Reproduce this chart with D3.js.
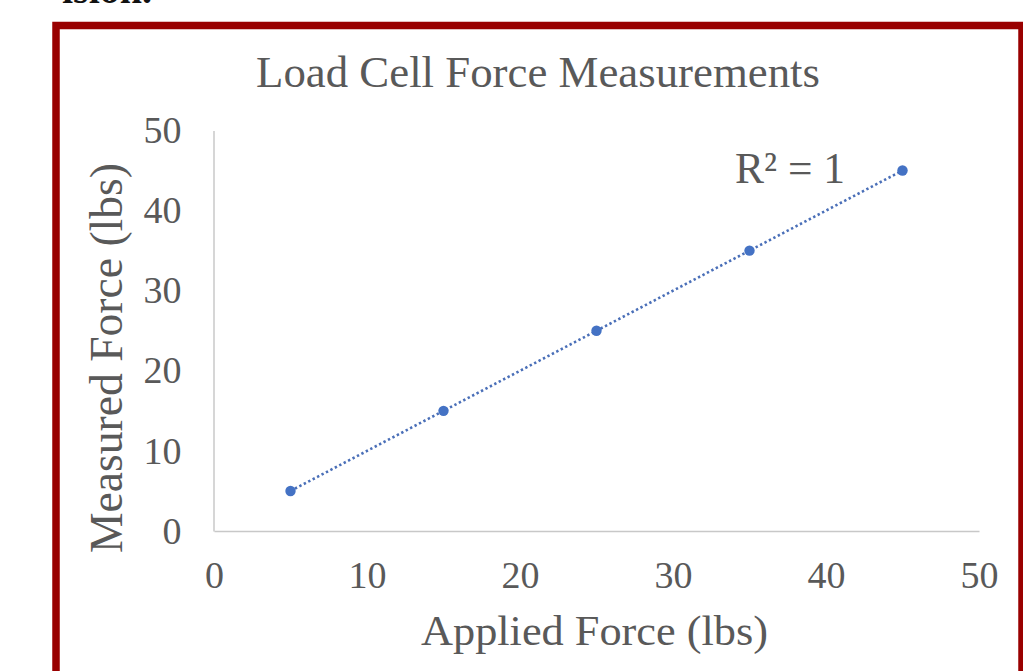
<!DOCTYPE html>
<html>
<head>
<meta charset="utf-8">
<script src="https://cdn.jsdelivr.net/npm/d3@7"></script>
<style>
  html, body { margin: 0; padding: 0; background: #ffffff; }
  svg { display: block; }
  text { font-family: "Liberation Serif", "Times New Roman", serif; }
</style>
</head>
<body>
<svg id="chart" width="1023" height="671"></svg>
<script>
// ---- data ----
const appliedForce = [5, 15, 25, 35, 45];
const measuredForce = [5, 15, 25, 35, 45];
const xTickValues = [0, 10, 20, 30, 40, 50];
const yTickValues = [0, 10, 20, 30, 40, 50];
const chartTitle = "Load Cell Force Measurements";
const xTitle = "Applied Force (lbs)";
const yTitle = "Measured Force (lbs)";
const rSquaredLabel = "R² = 1";
const headingFragment = "ision.";

const svg = d3.select("#chart");
const textColor = "#595959";
const blue = "#4472C4";

// partial heading text at the very top (cut off in the original screenshot)
svg.append("text")
  .attr("x", 152).attr("y", 3)
  .attr("text-anchor", "end")
  .attr("font-size", 40).attr("font-weight", "bold")
  .attr("fill", "#111")
  .text(headingFragment);

// dark red frame
svg.append("rect")
  .attr("x", 56).attr("y", 25.5)
  .attr("width", 966).attr("height", 700)
  .attr("fill", "#ffffff")
  .attr("stroke", "#990000")
  .attr("stroke-width", 7.5);

const x = d3.scaleLinear().domain([0, 50]).range([214, 979]);
const y = d3.scaleLinear().domain([0, 50]).range([531, 130.5]);

// x axis
const xAxis = svg.append("g")
  .attr("transform", `translate(0,${y(0)})`)
  .call(d3.axisBottom(x).tickValues(xTickValues).tickSizeInner(0).tickSizeOuter(0).tickPadding(30));
xAxis.select(".domain").attr("stroke", "#c8c8c8").attr("stroke-width", 1.5);
xAxis.selectAll("text")
  .attr("font-size", 38).attr("fill", textColor)
  .style("font-family", '"Liberation Serif", "Times New Roman", serif');

// y axis
const yAxis = svg.append("g")
  .attr("transform", `translate(${x(0) - 0.5},0)`)
  .call(d3.axisLeft(y).tickValues(yTickValues).tickSizeInner(0).tickSizeOuter(0).tickPadding(32));
yAxis.select(".domain").attr("stroke", "#c8c8c8").attr("stroke-width", 1.5);
yAxis.selectAll("text")
  .attr("font-size", 38).attr("fill", textColor)
  .style("font-family", '"Liberation Serif", "Times New Roman", serif');

// trendline (linear least-squares fit over the data range)
const mx = d3.mean(appliedForce), my = d3.mean(measuredForce);
const slope = d3.sum(appliedForce, (v, i) => (v - mx) * (measuredForce[i] - my)) /
              d3.sum(appliedForce, v => (v - mx) * (v - mx));
const intercept = my - slope * mx;
const xMin = d3.min(appliedForce), xMax = d3.max(appliedForce);
svg.append("line")
  .attr("x1", x(xMin)).attr("y1", y(slope * xMin + intercept))
  .attr("x2", x(xMax)).attr("y2", y(slope * xMax + intercept))
  .attr("stroke", "#4a6fb8")
  .attr("stroke-width", 2.6)
  .attr("stroke-dasharray", "2.4,2.6");

// points
svg.append("g").selectAll("circle")
  .data(appliedForce.map((v, i) => ({ a: v, m: measuredForce[i] })))
  .join("circle")
  .attr("cx", d => x(d.a))
  .attr("cy", d => y(d.m))
  .attr("r", 5.2)
  .attr("fill", blue);

// title
svg.append("text")
  .attr("x", 538).attr("y", 87)
  .attr("text-anchor", "middle")
  .attr("font-size", 45).attr("fill", textColor)
  .attr("textLength", 564).attr("lengthAdjust", "spacingAndGlyphs")
  .text(chartTitle);

// x title
svg.append("text")
  .attr("x", 594.5).attr("y", 645)
  .attr("text-anchor", "middle")
  .attr("font-size", 43).attr("fill", textColor)
  .attr("textLength", 347).attr("lengthAdjust", "spacingAndGlyphs")
  .text(xTitle);

// y title
svg.append("text")
  .attr("transform", "translate(122,358) rotate(-90)")
  .attr("text-anchor", "middle")
  .attr("font-size", 46).attr("fill", textColor)
  .attr("textLength", 390).attr("lengthAdjust", "spacingAndGlyphs")
  .text(yTitle);

// R² label
svg.append("text")
  .attr("x", 735).attr("y", 183)
  .attr("font-size", 44).attr("fill", textColor)
  .attr("textLength", 110).attr("lengthAdjust", "spacingAndGlyphs")
  .text(rSquaredLabel);
</script>
</body>
</html>
